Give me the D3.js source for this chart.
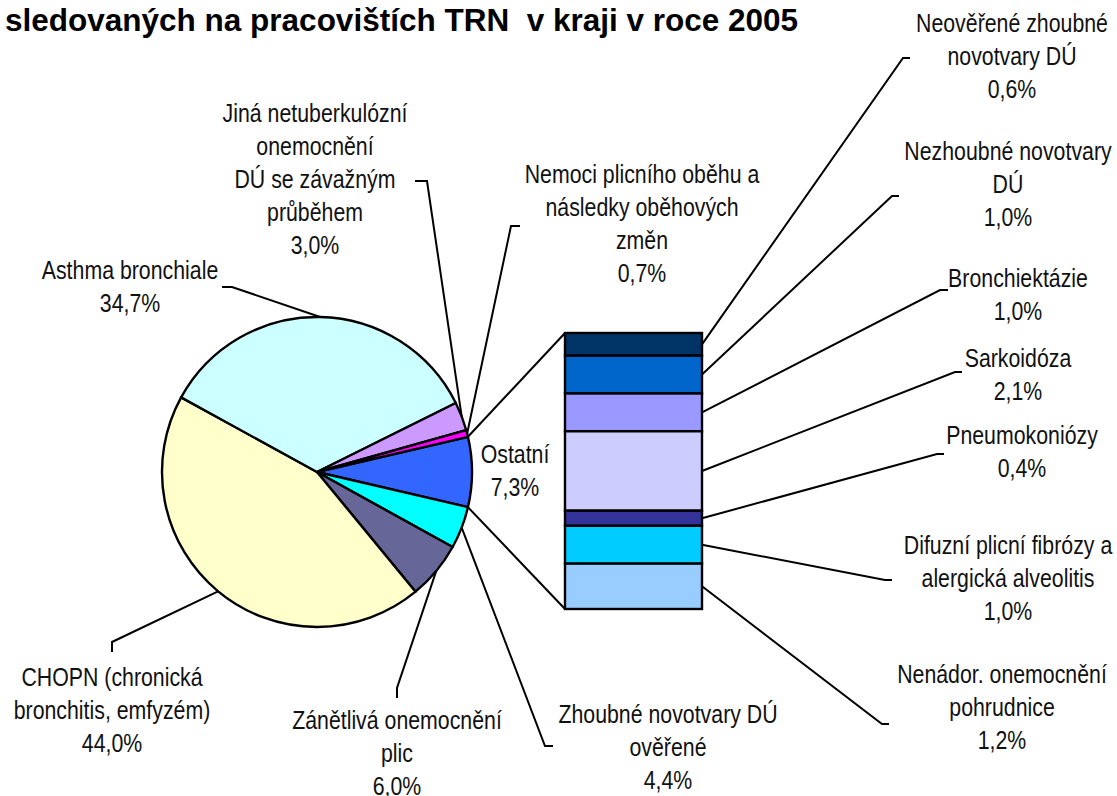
<!DOCTYPE html>
<html>
<head>
<meta charset="utf-8">
<script src="https://cdn.jsdelivr.net/npm/d3@7"></script>
<style>
  body { margin: 0; background: #fff; }
  text { font-family: "Liberation Sans", Arial, sans-serif; fill: #111; }
  .title { font-weight: bold; white-space: pre; fill: #000; }
</style>
</head>
<body>
<div id="chart"></div>
<script>
// pie slices, clockwise starting with the "Ostatní" slice
const pieLines = [
  ["Ostatní"],
  ["Zhoubné novotvary DÚ", "ověřené"],
  ["Zánětlivá onemocnění", "plic"],
  ["CHOPN (chronická", "bronchitis, emfyzém)"],
  ["Asthma bronchiale"],
  ["Jiná netuberkulózní", "onemocnění", "DÚ se závažným", "průběhem"],
  ["Nemoci plicního oběhu a", "následky oběhových", "změn"]
];
const pieValues = [7.3, 4.4, 6.0, 44.0, 34.7, 3.0, 0.7];

// breakdown of "Ostatní", top to bottom
const barLines = [
  ["Neověřené zhoubné", "novotvary DÚ"],
  ["Nezhoubné novotvary", "DÚ"],
  ["Bronchiektázie"],
  ["Sarkoidóza"],
  ["Pneumokoniózy"],
  ["Difuzní plicní fibrózy a", "alergická alveolitis"],
  ["Nenádor. onemocnění", "pohrudnice"]
];
const barValues = [0.6, 1.0, 1.0, 2.1, 0.4, 1.0, 1.2];

const titleText = "sledovaných na pracovištích TRN  v kraji v roce 2005";

const pieColors = ["#3366ff", "#00ffff", "#666699", "#ffffcc", "#ccffff", "#cc99ff", "#ff00ff"];
const barColors = ["#003366", "#0066cc", "#9999ff", "#ccccff", "#333399", "#00ccff", "#99ccff"];

// label anchors: text centre x, first baseline y, leader nub [from, to]
const pieLabelPos = [
  {x: 515, y: 463, nub: null},
  {x: 668, y: 723, nub: [[553, 746], [545, 746]]},
  {x: 397, y: 729, nub: [[397, 698], [397, 688]]},
  {x: 112, y: 686, nub: [[112, 652], [112, 642]]},
  {x: 130, y: 279, nub: [[222, 287], [232, 287]]},
  {x: 315, y: 122, nub: [[415, 181], [427, 181]]},
  {x: 642, y: 183, nub: [[520, 226], [511, 226]]}
];
const barLabelPos = [
  {x: 1012, y: 32, nub: [[910, 58], [903, 58]]},
  {x: 1008, y: 160, nub: [[899, 196], [892, 196]]},
  {x: 1018, y: 287, nub: [[948, 290], [940, 290]]},
  {x: 1018, y: 367, nub: [[962, 372], [955, 372]]},
  {x: 1022, y: 444, nub: [[944, 454], [937, 454]]},
  {x: 1008, y: 554, nub: [[892, 580], [885, 580]]},
  {x: 1002, y: 683, nub: [[889, 724], [882, 724]]}
];

const W = 1117, H = 796;
const lineH = 33;
const narrow = 0.82; // Arial Narrow look
const fmt = v => d3.format(".1f")(v).replace(".", ",") + "%";

const svg = d3.select("#chart").append("svg")
    .attr("width", W).attr("height", H);

svg.append("text")
    .attr("class", "title")
    .attr("x", 5).attr("y", 31)
    .style("font-size", "31.5px")
    .text(titleText);

// pie
const cx = 317, cy = 472, r = 155;
const total = d3.sum(pieValues);
const a0 = Math.PI / 2 - (pieValues[0] / total) * Math.PI;
const pie = d3.pie().sort(null).value(d => d)
    .startAngle(a0).endAngle(a0 + 2 * Math.PI);
const arcs = pie(pieValues);
const arc = d3.arc().innerRadius(0).outerRadius(r);
const pt = (a, rad) => [cx + rad * Math.sin(a), cy - rad * Math.cos(a)];

const g = svg.append("g").attr("transform", `translate(${cx},${cy})`);
g.selectAll("path")
  .data(arcs)
  .join("path")
    .attr("d", arc)
    .attr("fill", (d, i) => pieColors[i])
    .attr("stroke", "#000")
    .attr("stroke-width", 2.4)
    .attr("stroke-linejoin", "round");

// stacked bar
const bx0 = 565, bx1 = 702;
const y = d3.scaleLinear()
    .domain([0, d3.sum(barValues)])
    .range([333, 609]);
const cum = [0, ...d3.cumsum(barValues)];

svg.append("g").selectAll("rect")
  .data(barValues)
  .join("rect")
    .attr("x", bx0)
    .attr("y", (d, i) => y(cum[i]))
    .attr("width", bx1 - bx0)
    .attr("height", (d, i) => y(cum[i + 1]) - y(cum[i]))
    .attr("fill", (d, i) => barColors[i])
    .attr("stroke", "#000")
    .attr("stroke-width", 2.4);

// connectors pie -> bar
const lines = svg.append("g")
    .attr("fill", "none").attr("stroke", "#000").attr("stroke-width", 2);
const line = d3.line();
lines.append("path").attr("d", line([pt(arcs[0].startAngle, r), [bx0, y(0)]]));
lines.append("path").attr("d", line([pt(arcs[0].endAngle, r), [bx0, y(cum[cum.length - 1])]]));

// pie leaders
arcs.forEach((d, i) => {
  const p = pieLabelPos[i];
  if (!p.nub) return;
  const mid = (d.startAngle + d.endAngle) / 2;
  lines.append("path").attr("d", line([p.nub[0], p.nub[1], pt(mid, r)]));
});

// bar leaders
barValues.forEach((v, i) => {
  const p = barLabelPos[i];
  const my = y((cum[i] + cum[i + 1]) / 2);
  lines.append("path").attr("d", line([p.nub[0], p.nub[1], [bx1, my]]));
});

// labels
function label(lines, value, p) {
  const t = svg.append("g")
      .attr("transform", `translate(${p.x},${p.y}) scale(${narrow},1)`)
    .append("text")
      .attr("text-anchor", "middle")
      .style("font-size", "26px");
  [...lines, fmt(value)].forEach((s, k) => {
    t.append("tspan").attr("x", 0).attr("y", k * lineH).text(s);
  });
}
pieValues.forEach((v, i) => label(pieLines[i], v, pieLabelPos[i]));
barValues.forEach((v, i) => label(barLines[i], v, barLabelPos[i]));
</script>
</body>
</html>
